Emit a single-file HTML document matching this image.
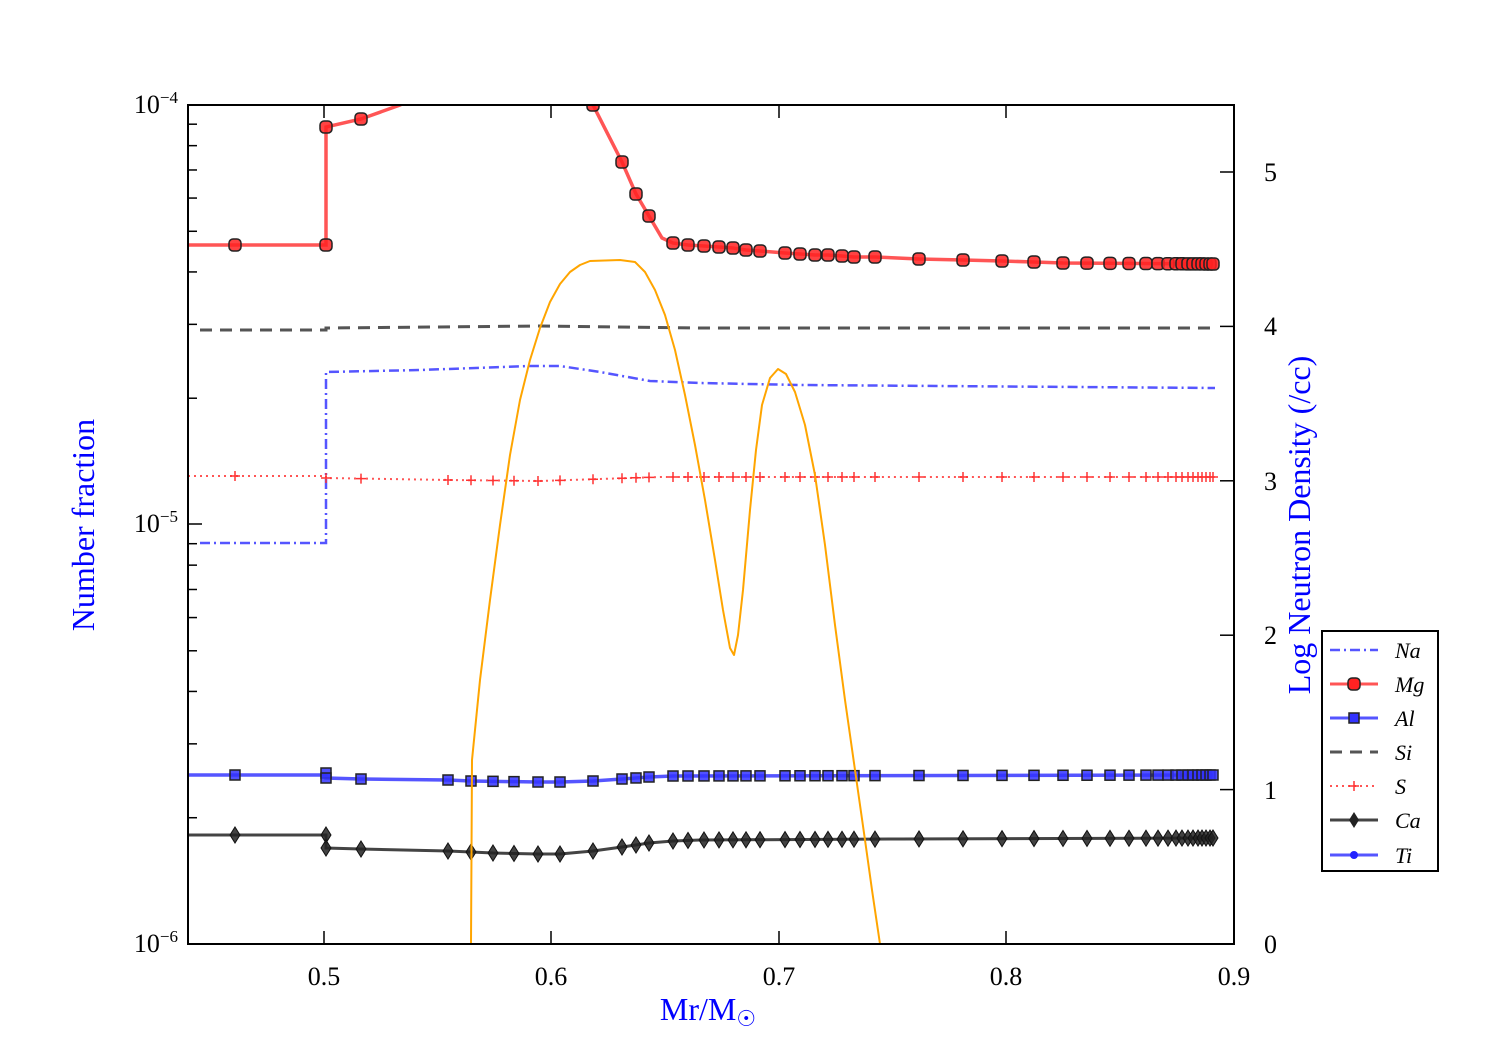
<!DOCTYPE html>
<html><head><meta charset="utf-8"><style>body{margin:0;background:#fff}svg{display:block}</style></head>
<body>
<svg id="s" width="1500" height="1050" xmlns="http://www.w3.org/2000/svg" font-family="Liberation Serif, serif">
<defs><clipPath id="c"><rect x="188" y="105" width="1046" height="839"/></clipPath></defs>
<g id="plot" clip-path="url(#c)"></g>
<rect x="188" y="105" width="1046" height="839" fill="none" stroke="#000" stroke-width="2"/>
<g id="ticks" stroke="#000" stroke-width="1.5"></g>
<g font-size="26" fill="#000">
<text x="324" y="985" text-anchor="middle">0.5</text>
<text x="551" y="985" text-anchor="middle">0.6</text>
<text x="779" y="985" text-anchor="middle">0.7</text>
<text x="1006" y="985" text-anchor="middle">0.8</text>
<text x="1234" y="985" text-anchor="middle">0.9</text>
<text x="178" y="113" text-anchor="end">10<tspan dy="-10" font-size="17">−4</tspan></text>
<text x="178" y="532" text-anchor="end">10<tspan dy="-10" font-size="17">−5</tspan></text>
<text x="178" y="952" text-anchor="end">10<tspan dy="-10" font-size="17">−6</tspan></text>
<text x="1264" y="953">0</text><text x="1264" y="799">1</text><text x="1264" y="644">2</text>
<text x="1264" y="490">3</text><text x="1264" y="335">4</text><text x="1264" y="181">5</text>
</g>
<text x="94" y="525" font-size="32" fill="#00f" text-anchor="middle" transform="rotate(-90 94 525)">Number fraction</text>
<text x="1310" y="525" font-size="32" fill="#00f" text-anchor="middle" transform="rotate(-90 1310 525)">Log Neutron Density (/cc)</text>
<text x="708" y="1020" font-size="32" fill="#00f" text-anchor="middle">Mr/M<tspan font-size="22" dy="6">☉</tspan></text>
<g id="leg"><rect x="1322" y="631" width="116" height="240" fill="#fff" stroke="#000" stroke-width="2"/></g>
</svg>
<script>
const NS="http://www.w3.org/2000/svg",P=document.getElementById('plot');
function el(t,a,p){const e=document.createElementNS(NS,t);for(const k in a)e.setAttribute(k,a[k]);(p||P).appendChild(e);return e;}
function pl(pts,st,p){return el('polyline',Object.assign({points:pts.map(q=>q.join(',')).join(' '),fill:'none'},st),p);}
function interp(pts,x){for(let i=0;i<pts.length-1;i++){if(x>=pts[i][0]&&x<=pts[i+1][0]){const a=pts[i],b=pts[i+1];if(b[0]==a[0])return a[1];return a[1]+(b[1]-a[1])*(x-a[0])/(b[0]-a[0]);}}return pts[pts.length-1][1];}
const xs=[235,361,448,471,493,514,538,560,593,622,636,649,673,688,704,719,733,746,760,785,800,815,828,842,854,875,919,963,1002,1034,1063,1087,1110,1129,1146,1158,1168,1176,1182,1188,1193,1198,1202,1206,1210,1213];
pl([[200,330],[326,330],[326,328],[540,326],[700,328],[1215,328]],{stroke:'#555','stroke-width':3,'stroke-dasharray':'12,8'});
pl([[200,543],[326,543],[326,372],[420,370],[530,366],[560,366],[600,372],[650,381],[700,383],[800,385],[1215,388]],{stroke:'#55f','stroke-width':2.5,'stroke-dasharray':'10,4,2,4'});
const S=[[188,476],[326,476],[326,478],[450,480],[540,481],[600,479],[660,477],[1215,477]];
pl(S,{stroke:'#f55','stroke-width':2,'stroke-dasharray':'2,4'});
[326].concat(xs).forEach(x=>{const y=interp(S,x+0.01);el('path',{d:`M${x-5},${y}h10M${x},${y-5}v10`,stroke:'#f33','stroke-width':1.5});});
const A=[[188,775],[326,775],[326,778],[361,779],[448,780],[471,781],[538,782],[560,782],[593,781],[622,779],[649,777],[673,776],[1213,775]];
pl(A,{stroke:'#55f','stroke-width':3.5});
[[326,773],[326,778]].concat(xs.map(x=>[x,interp(A,x+0.01)])).forEach(q=>el('rect',{x:q[0]-5,y:q[1]-5,width:10,height:10,fill:'#33f','fill-opacity':0.85,stroke:'#222','stroke-width':1.5}));
const C=[[188,835],[326,835],[326,848],[361,849],[448,851],[471,852],[493,853],[538,854],[560,854],[593,851],[622,847],[636,845],[649,843],[673,841],[700,840],[900,839],[1213,838]];
pl(C,{stroke:'#444','stroke-width':3});
[[326,835],[326,848]].concat(xs.map(x=>[x,interp(C,x+0.01)])).forEach(q=>el('path',{d:`M${q[0]},${q[1]-8}l5,8l-5,8l-5,-8z`,fill:'#222','fill-opacity':0.85,stroke:'#111','stroke-width':1}));
const M=[[188,245],[326,245],[326,127],[361,119],[400,105],[430,90],[560,90],[593,105],[622,162],[636,194],[649,216],[662,238],[673,243],[688,245],[704,246],[719,247],[733,248],[746,250],[760,251],[785,253],[800,254],[815,255],[828,255],[842,256],[854,257],[875,257],[919,259],[963,260],[1002,261],[1034,262],[1063,263],[1213,264]];
pl(M,{stroke:'#f55','stroke-width':3.5});
const mx=[[235,245],[326,245],[326,127],[361,119],[593,105]].concat(xs.slice(9).map(x=>[x,interp(M,x+0.01)]));
mx.forEach(q=>el('rect',{x:q[0]-6,y:q[1]-6,width:12,height:12,rx:4,fill:'#f22','fill-opacity':0.85,stroke:'#222','stroke-width':1.5}));
pl([[471,944],[472,760],[480,680],[490,600],[500,525],[510,455],[520,400],[530,360],[540,328],[550,302],[560,284],[570,272],[580,265],[590,261],[620,260],[635,262],[645,272],[655,290],[665,315],[675,350],[685,395],[695,445],[705,500],[715,560],[723,610],[730,648],[734,655],[738,635],[743,590],[750,510],[756,450],[762,405],[770,378],[778,369],[786,374],[795,392],[805,425],[815,475],[825,545],[835,625],[845,700],[855,770],[865,840],[872,890],[880,944]],{stroke:'#ffa500','stroke-width':2,'stroke-linejoin':'round'});
const T=document.getElementById('ticks');
function ln(x1,y1,x2,y2){el('line',{x1,y1,x2,y2},T);}
[324,551,779,1006].forEach(x=>{ln(x,105,x,118);ln(x,944,x,931);});
[0,1,2,3,4,5].forEach(v=>{const y=944-154.4*v;ln(1234,y,1220,y);});
[105,524,944].forEach(y=>ln(188,y,202,y));
for(let d=0;d<2;d++)for(let k=2;k<=9;k++){const y=944-419.5*d-419.5*Math.log10(k);ln(188,y,197,y);}
const L=document.getElementById('leg');
const rows=[[650,'Na'],[684,'Mg'],[718,'Al'],[752,'Si'],[786,'S'],[820,'Ca'],[855,'Ti']];
pl([[1330,650],[1378,650]],{stroke:'#55f','stroke-width':2.5,'stroke-dasharray':'10,4,2,4'},L);
pl([[1330,684],[1378,684]],{stroke:'#f55','stroke-width':3},L);
el('rect',{x:1348,y:678,width:12,height:12,rx:4,fill:'#f22',stroke:'#222','stroke-width':1.5},L);
pl([[1330,718],[1378,718]],{stroke:'#55f','stroke-width':3},L);
el('rect',{x:1349,y:713,width:10,height:10,fill:'#33f',stroke:'#222','stroke-width':1.5},L);
pl([[1330,752],[1378,752]],{stroke:'#555','stroke-width':3,'stroke-dasharray':'12,8'},L);
pl([[1330,786],[1378,786]],{stroke:'#f55','stroke-width':2,'stroke-dasharray':'2,4'},L);
el('path',{d:'M1349,786h10M1354,781v10',stroke:'#f33','stroke-width':1.5},L);
pl([[1330,820],[1378,820]],{stroke:'#444','stroke-width':3},L);
el('path',{d:'M1354,812l5,8l-5,8l-5,-8z',fill:'#222'},L);
pl([[1330,855],[1378,855]],{stroke:'#55f','stroke-width':3},L);
el('circle',{cx:1354,cy:855,r:4,fill:'#22f'},L);
rows.forEach(r=>{const t=el('text',{x:1395,y:r[0]+8,'font-size':22,'font-style':'italic'},L);t.textContent=r[1];});
</script>
</body></html>
